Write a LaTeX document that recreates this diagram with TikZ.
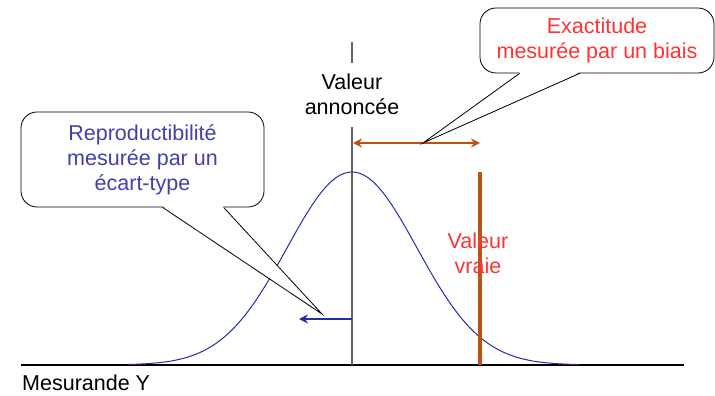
\documentclass[tikz,border=0pt]{standalone}
\usepackage{fontspec}
\setmainfont{Liberation Sans}
\usetikzlibrary{arrows.meta,calc}
\definecolor{redtxt}{RGB}{255,51,51}
\definecolor{bluetxt}{RGB}{64,64,176}
\definecolor{curveblue}{RGB}{35,45,170}
\definecolor{brownc}{RGB}{190,82,20}
\definecolor{axisgray}{RGB}{100,100,100}
\tikzset{
  txt/.style={align=center,font=\fontsize{21.5}{25}\selectfont,inner sep=0pt},
  callbox/.style={draw=black,line width=0.8pt,fill=white,rounded corners=16pt,txt},
  wedge/.style={draw=black,line width=0.8pt},
}
\begin{document}
\begin{tikzpicture}[x=1pt,y=-1pt]
\useasboundingbox (0,0) rectangle (715,396);
% axis
\coordinate (axL) at (21,365);
\coordinate (axR) at (684,365);
\draw[line width=1.5pt,black] (axL) -- (axR);
% vertical line
\coordinate (vtop) at (352,42);
\coordinate (vgapA) at (352,63);
\coordinate (vgapB) at (352,127);
\coordinate (vbot) at (352,365);
\draw[axisgray,line width=1.8pt] (vtop) -- (vgapA);
\draw[axisgray,line width=1.8pt] (vgapB) -- (vbot);
% gaussian
\draw[curveblue,line width=1pt] plot[domain=128:578,samples=120,smooth] (\x,{365-193*exp(-0.5*((\x-352)/65)^2)});
% true value line
\coordinate (btop) at (480,172);
\coordinate (bbot) at (480,365);
\draw[brownc,line width=3.5pt] (btop) -- (bbot);
% double arrow
\coordinate (daL) at (353,143);
\coordinate (daR) at (480,143);
\draw[brownc,line width=1.4pt,{Stealth[length=9pt,width=9pt,inset=3pt]}-{Stealth[length=9pt,width=9pt,inset=3pt]}] (daL) -- (daR);
% blue arrow
\coordinate (baR) at (352,319);
\coordinate (baL) at (299,319);
\draw[curveblue,line width=1.4pt,-{Stealth[length=9pt,width=9pt,inset=3pt]}] (baR) -- (baL);
% texts
\node[txt] (annonce) at (352,94) {Valeur\\annoncée};
\node[txt,text=redtxt] (vraie) at (478,253) {Valeur\\vraie};
\node[txt,anchor=west] (mesurande) at (22,383) {Mesurande Y};
% callout: exactitude
\node[callbox,minimum width=234pt,minimum height=65pt,text=redtxt] (exbox) at (597,40.5) {Exactitude\\mesurée par un biais};
\coordinate (extip) at (423,143);
\coordinate (exb1) at ($(exbox.south west)+(40,0)$);
\coordinate (exb2) at ($(exbox.south west)+(100,0)$);
\fill[white] ($(exb1)+(0.6,-1.2)$) -- (extip) -- ($(exb2)+(-0.6,-1.2)$) -- cycle;
\draw[wedge] (exb1) -- (extip) -- (exb2);
% callout: reproductibilite
\node[callbox,minimum width=243pt,minimum height=95pt,text=bluetxt] (repbox) at (142.5,159.5) {Reproductibilité\\mesurée par un\\écart-type};
\coordinate (reptip) at (322,314);
\coordinate (repb1) at ($(repbox.south west)+(142,0)$);
\coordinate (repb2) at ($(repbox.south west)+(203,0)$);
\fill[white] ($(repb1)+(0.6,-1.2)$) -- (reptip) -- ($(repb2)+(-0.6,-1.2)$) -- cycle;
\draw[wedge] (repb1) -- (reptip) -- (repb2);
\end{tikzpicture}
\end{document}
